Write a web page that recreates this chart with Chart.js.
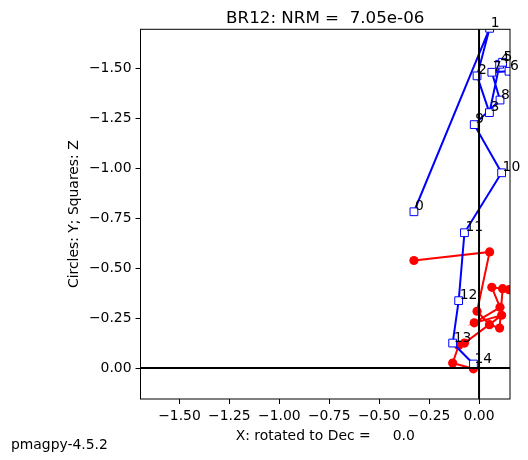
<!DOCTYPE html>
<html>
<head>
<meta charset="utf-8">
<script src="https://cdn.jsdelivr.net/npm/chart.js@4.4.0/dist/chart.umd.min.js"></script>
<style>
html, body { margin: 0; padding: 0; background: #fff; }
</style>
</head>
<body>
<canvas id="chart" width="528" height="460"></canvas>
<script>
// demag steps and rotated components
const steps = [0, 1, 2, 3, 4, 5, 6, 7, 8, 9, 10, 11, 12, 13, 14];
const xVals = [-0.326, 0.053, -0.010, 0.052, 0.103, 0.118, 0.150, 0.064, 0.105, -0.024, 0.113, -0.073, -0.102, -0.132, -0.028];
const yVals = [-0.538, -0.581, -0.284, -0.217, -0.200, -0.397, -0.392, -0.404, -0.304, -0.226, -0.264, -0.125, -0.113, -0.025, 0.004];
const zVals = [-0.782, -1.700, -1.462, -1.278, -1.520, -1.530, -1.485, -1.480, -1.341, -1.218, -0.977, -0.677, -0.337, -0.125, -0.020];
const xTicks = [-1.5, -1.25, -1.0, -0.75, -0.5, -0.25, 0.0];
const yTicks = [-1.5, -1.25, -1.0, -0.75, -0.5, -0.25, 0.0];

const FONT = 'DejaVu Sans';
const FS = 13.9;

const fmt = v => (v < -1e-9 ? '\u2212' : '') + Math.abs(v).toFixed(2);

const frame = {
    id: 'frame',
    afterDatasetsDraw(chart) {
        const {ctx, chartArea: a, scales: {x, y}} = chart;
        ctx.save();
        ctx.strokeStyle = '#000';
        ctx.lineWidth = 2;
        const x0 = x.getPixelForValue(0), y0 = y.getPixelForValue(0);
        ctx.beginPath();
        ctx.moveTo(x0, a.top); ctx.lineTo(x0, a.bottom);
        ctx.moveTo(a.left, y0); ctx.lineTo(a.right, y0);
        ctx.stroke();
        ctx.lineWidth = 1;
        ctx.strokeRect(a.left, a.top, a.right - a.left, a.bottom - a.top);

        // step numbers next to the squares
        ctx.fillStyle = '#000';
        ctx.font = FS + 'px "' + FONT + '"';
        ctx.textAlign = 'left';
        ctx.textBaseline = 'alphabetic';
        steps.forEach((s, i) => {
            ctx.fillText(String(s), x.getPixelForValue(xVals[i]) + 1, y.getPixelForValue(zVals[i]) - 1.5);
        });

        // texts
        ctx.textAlign = 'center';
        ctx.fillText('X: rotated to Dec =     0.0', (a.left + a.right) / 2, 440);
        ctx.textAlign = 'left';
        ctx.fillText('pmagpy-4.5.2', 11, 449);
        ctx.save();
        ctx.translate(77.5, (a.top + a.bottom) / 2);
        ctx.rotate(-Math.PI / 2);
        ctx.textAlign = 'center';
        ctx.fillText('Circles: Y; Squares: Z', 0, 0);
        ctx.restore();
        ctx.font = '16.7px "' + FONT + '"';
        ctx.textAlign = 'center';
        ctx.fillText('BR12: NRM =  7.05e-06', (a.left + a.right) / 2, 23);
        ctx.restore();
    }
};

const axisOpts = (ticks, w, h) => ({
    type: 'linear',
    min: -1.695,
    max: 0.155,
    afterBuildTicks: scale => { scale.ticks = ticks.map(v => ({value: v})); },
    afterFit: scale => {
        if (w) scale.width = w;
        if (h) scale.height = h;
    },
    grid: {display: true, drawOnChartArea: false, drawTicks: true, tickLength: 5, color: '#000', lineWidth: 1},
    border: {display: false},
    ticks: {
        autoSkip: false,
        maxRotation: 0,
        padding: 4,
        color: '#000',
        font: {family: FONT, size: FS},
        callback: v => fmt(v)
    }
});

const ctx = document.getElementById('chart').getContext('2d');
new Chart(ctx, {
    type: 'scatter',
    data: {
        datasets: [{
            label: 'Z',
            data: xVals.map((v, i) => ({x: v, y: zVals[i]})),
            showLine: true,
            borderColor: '#0000ff',
            borderWidth: 2,
            pointStyle: 'rect',
            pointRadius: 5.5,
            pointBackgroundColor: '#ffffff',
            pointBorderColor: '#0000ff',
            pointBorderWidth: 1,
            order: 1
        }, {
            label: 'Y',
            data: xVals.map((v, i) => ({x: v, y: yVals[i]})),
            showLine: true,
            borderColor: '#ff0000',
            borderWidth: 2,
            pointStyle: 'circle',
            pointRadius: 4.6,
            pointBackgroundColor: '#ff0000',
            pointBorderColor: '#ff0000',
            pointBorderWidth: 0,
            order: 2
        }]
    },
    options: {
        responsive: false,
        animation: false,
        devicePixelRatio: 1,
        layout: {padding: {left: 0, right: 18, top: 29.3, bottom: 0}},
        plugins: {legend: {display: false}, tooltip: {enabled: false}},
        scales: {
            x: axisOpts(xTicks, 0, 61),
            y: Object.assign(axisOpts(yTicks, 140.5, 0), {reverse: true})
        }
    },
    plugins: [frame]
});
</script>
</body>
</html>
